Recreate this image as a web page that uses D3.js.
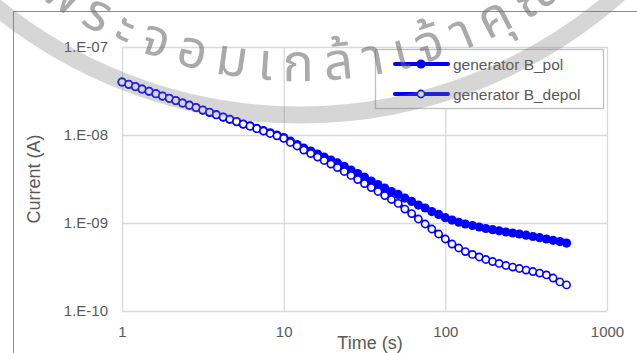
<!DOCTYPE html>
<html>
<head>
<meta charset="utf-8">
<script src="https://cdn.jsdelivr.net/npm/d3@7"></script>
<style>
body{margin:0;background:#fff;}
text{font-family:"Liberation Sans",Arial,sans-serif;}
</style>
</head>
<body>
<svg id="chart" width="637" height="353"></svg>
<script>
// data
var times = [1.00,1.10,1.21,1.33,1.47,1.62,1.78,1.96,2.15,2.37,2.61,2.87,3.16,3.48,3.83,4.22,4.64,5.11,5.62,6.19,6.81,7.50,8.25,9.09,
	10.0,11.0,12.1,13.3,14.7,16.2,17.8,19.6,21.5,23.7,26.1,28.7,31.6,34.8,38.3,42.2,46.4,51.1,56.2,61.9,68.1,75.0,82.5,90.9,
	100,110,121,133,147,162,178,196,215,237,261,287,316,348,383,422,464,511,562];
var polCurrent = [4.00e-8,3.77e-8,3.55e-8,3.33e-8,3.14e-8,2.95e-8,2.77e-8,2.61e-8,2.46e-8,2.31e-8,2.18e-8,2.05e-8,1.92e-8,1.81e-8,1.70e-8,1.60e-8,1.51e-8,1.42e-8,1.33e-8,1.27e-8,1.19e-8,1.12e-8,1.06e-8,1.00e-8,
	9.37e-9,8.55e-9,7.80e-9,7.12e-9,6.58e-9,6.08e-9,5.62e-9,5.20e-9,4.81e-9,4.39e-9,4.00e-9,3.65e-9,3.33e-9,3.00e-9,2.74e-9,2.50e-9,2.28e-9,2.11e-9,1.92e-9,1.76e-9,1.60e-9,1.48e-9,1.35e-9,1.25e-9,
	1.15e-9,1.08e-9,1.02e-9,9.74e-10,9.37e-10,9.01e-10,8.66e-10,8.39e-10,8.15e-10,7.90e-10,7.70e-10,7.50e-10,7.27e-10,7.02e-10,6.81e-10,6.58e-10,6.36e-10,6.15e-10,5.92e-10];
var depolCurrent = [4.00e-8,3.77e-8,3.55e-8,3.33e-8,3.14e-8,2.95e-8,2.77e-8,2.61e-8,2.46e-8,2.31e-8,2.18e-8,2.05e-8,1.92e-8,1.81e-8,1.70e-8,1.60e-8,1.51e-8,1.42e-8,1.33e-8,1.26e-8,1.18e-8,1.11e-8,1.04e-8,9.79e-9,
	9.17e-9,8.22e-9,7.50e-9,6.75e-9,6.16e-9,5.62e-9,5.13e-9,4.68e-9,4.27e-9,3.85e-9,3.47e-9,3.12e-9,2.81e-9,2.53e-9,2.28e-9,2.05e-9,1.85e-9,1.67e-9,1.44e-9,1.28e-9,1.11e-9,9.74e-10,8.55e-10,7.50e-10,
	6.58e-10,5.77e-10,5.20e-10,4.74e-10,4.39e-10,4.11e-10,3.85e-10,3.65e-10,3.47e-10,3.29e-10,3.16e-10,3.04e-10,2.92e-10,2.81e-10,2.70e-10,2.57e-10,2.37e-10,2.14e-10,1.98e-10];
var seriesNames = ["generator B_pol","generator B_depol"];
var xTicks = [1,10,100,1000];
var yTicks = [1e-10,1e-9,1e-8,1e-7];
var yTickLabels = ["1.E-10","1.E-09","1.E-08","1.E-07"];
var xTitle = "Time (s)";
var yTitle = "Current (A)";
var watermarkText = "พระจอมเกล้าเจ้าคุณทหาร";

var blue = "#0000ff";
var textColor = "#595959";
var gridColor = "#d9d9d9";
var plotLeft = 122, plotRight = 607, plotTop = 47, plotBottom = 311;

var svg = d3.select("#chart");

var xScale = d3.scaleLog()
	.domain([1,1000])
	.range([plotLeft,plotRight]);
var yScale = d3.scaleLog()
	.domain([1e-10,1e-7])
	.range([plotBottom,plotTop]);

// outer chart frame (only top and left edge are in the picture)
svg.append("path")
	.attr("d","M13.5,353 V11.5 H637")
	.attr("fill","none")
	.attr("stroke","#8c8c8c")
	.attr("stroke-width",1);

// gridlines + plot border
svg.append("g")
	.attr("transform","translate(0,"+plotBottom+")")
	.call(d3.axisBottom(xScale).tickValues(xTicks).tickSize(-(plotBottom-plotTop)).tickFormat(""))
	.call(g => g.select(".domain").remove())
	.selectAll("line").attr("stroke",gridColor).attr("stroke-width",1.3);
svg.append("g")
	.attr("transform","translate("+plotLeft+",0)")
	.call(d3.axisLeft(yScale).tickValues(yTicks).tickSize(-(plotRight-plotLeft)).tickFormat(""))
	.call(g => g.select(".domain").remove())
	.selectAll("line").attr("stroke",gridColor).attr("stroke-width",1.3);

// tick labels
var xAxis = svg.append("g")
	.attr("transform","translate(0,"+plotBottom+")")
	.call(d3.axisBottom(xScale).tickValues(xTicks).tickSize(0).tickPadding(15).tickFormat(d3.format("d")));
xAxis.select(".domain").remove();
xAxis.selectAll("text")
	.attr("fill",textColor)
	.style("font-size","15px")
	.style("font-family","'Liberation Sans',Arial,sans-serif");

var yAxis = svg.append("g")
	.attr("transform","translate("+plotLeft+",0)")
	.call(d3.axisLeft(yScale).tickValues(yTicks).tickSize(0).tickPadding(14).tickFormat((d,i) => yTickLabels[i]));
yAxis.select(".domain").remove();
yAxis.selectAll("text")
	.attr("fill",textColor)
	.style("font-size","15px")
	.style("font-family","'Liberation Sans',Arial,sans-serif");

// axis titles
svg.append("text")
	.attr("x",370)
	.attr("y",349)
	.attr("text-anchor","middle")
	.attr("fill",textColor)
	.style("font-size","18px")
	.text(xTitle);
svg.append("text")
	.attr("transform","translate(40,"+((plotTop+plotBottom)/2)+") rotate(-90)")
	.attr("text-anchor","middle")
	.attr("fill",textColor)
	.style("font-size","18px")
	.text(yTitle);

// series
var polData = times.map((t,i) => ({t:t, v:polCurrent[i]}));
var depolData = times.map((t,i) => ({t:t, v:depolCurrent[i]}));

var line = d3.line()
	.x(d => xScale(d.t))
	.y(d => yScale(d.v));

svg.append("path")
	.datum(polData)
	.attr("d",line)
	.attr("fill","none")
	.attr("stroke",blue)
	.attr("stroke-width",4);
svg.append("g").selectAll("circle")
	.data(polData)
	.enter()
	.append("circle")
	.attr("cx",d => xScale(d.t))
	.attr("cy",d => yScale(d.v))
	.attr("r",4.6)
	.attr("fill",blue);

svg.append("path")
	.datum(depolData)
	.attr("d",line)
	.attr("fill","none")
	.attr("stroke",blue)
	.attr("stroke-width",4);
svg.append("g").selectAll("circle")
	.data(depolData)
	.enter()
	.append("circle")
	.attr("cx",d => xScale(d.t))
	.attr("cy",d => yScale(d.v))
	.attr("r",3.6)
	.attr("fill","#fff")
	.attr("stroke",blue)
	.attr("stroke-width",1.6);

// legend
var legend = svg.append("g");
legend.append("rect")
	.attr("x",375.5)
	.attr("y",49.5)
	.attr("width",228)
	.attr("height",59)
	.attr("fill","#fff")
	.attr("stroke","#bfbfbf")
	.attr("stroke-width",1.3);
seriesNames.forEach(function(name,i) {
	var ly = 64 + i*30;
	legend.append("line")
		.attr("x1",395).attr("x2",448)
		.attr("y1",ly).attr("y2",ly)
		.attr("stroke",blue)
		.attr("stroke-width",4)
		.attr("stroke-linecap","round");
	legend.append("circle")
		.attr("cx",421)
		.attr("cy",ly)
		.attr("r",i==0 ? 4.6 : 3.6)
		.attr("fill",i==0 ? blue : "#fff")
		.attr("stroke",i==0 ? "none" : blue)
		.attr("stroke-width",1.6);
	legend.append("text")
		.attr("x",453)
		.attr("y",ly+5.5)
		.attr("fill",textColor)
		.style("font-size","15.5px")
		.text(name);
});

// watermark seal (ring + curved text)
var wm = svg.append("g").attr("pointer-events","none");
var cx = 300, cy = -366;
wm.append("circle")
	.attr("cx",cx).attr("cy",cy)
	.attr("r",481)
	.attr("fill","none")
	.attr("stroke","rgba(120,120,120,0.3)")
	.attr("stroke-width",17);
var tr = 447;
wm.append("path")
	.attr("id","wmArc")
	.attr("d","M"+(cx-tr)+","+cy+" A"+tr+","+tr+" 0 0 0 "+(cx+tr)+","+cy)
	.attr("fill","none");
wm.append("text")
	.attr("fill","rgba(100,100,100,0.55)")
	.style("font-family","'Noto Sans Thai','Noto Sans','DejaVu Sans',sans-serif")
	.style("font-size","52px")
	.style("letter-spacing","11px")
	.append("textPath")
	.attr("href","#wmArc")
	.attr("startOffset",424)
	.text(watermarkText);
</script>
</body>
</html>
